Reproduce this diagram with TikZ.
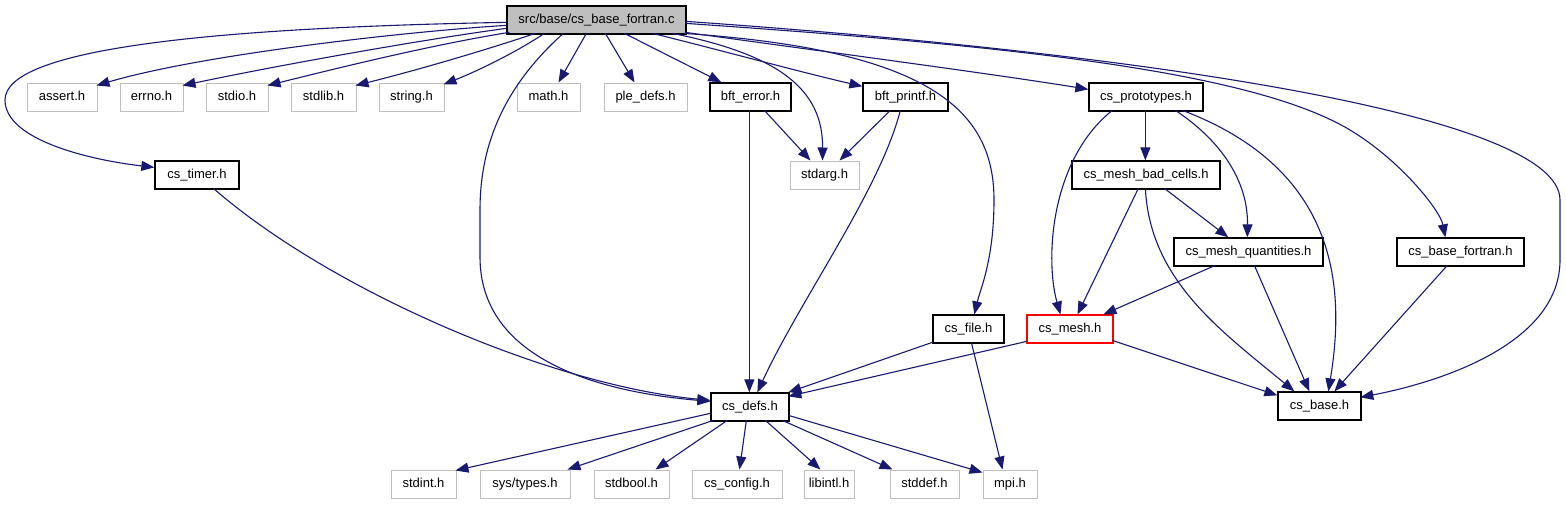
\documentclass[tikz,border=0pt]{standalone}
\usepackage{fontspec}
\setmainfont{Liberation Sans}
\usetikzlibrary{arrows.meta}
\definecolor{edgec}{HTML}{191970}
\definecolor{grayb}{HTML}{BFBFBF}
\begin{document}
\begin{tikzpicture}[x=1pt,y=-1pt,
  base/.style={draw, line width=1pt, inner sep=0pt, minimum height=28pt,
    font=\fontsize{13}{15}\selectfont, text height=9.5pt, text depth=2.5pt},
  blk/.style={base, draw=black, line width=1.3pt},
  gry/.style={base, draw=grayb},
  redb/.style={base, draw=red, line width=1.1pt},
  mainb/.style={base, draw=black, fill=grayb, line width=1.3pt},
  edge/.style={draw=edgec, line width=1.1pt, -{Triangle[length=13pt,width=10pt]}, fill=none},
]
\useasboundingbox (0,0) rectangle (1566,504);
\fill[white] (0,0) rectangle (1566,504);
% nodes
\node[mainb, minimum width=179pt] (main) at (596.5,20) {src/base/cs\_base\_fortran.c};
\node[gry, minimum width=70pt] (assert) at (62,97) {assert.h};
\node[gry, minimum width=63pt] (errno) at (151.5,97) {errno.h};
\node[gry, minimum width=62pt] (stdio) at (237,97) {stdio.h};
\node[gry, minimum width=65pt] (stdlib) at (323.5,97) {stdlib.h};
\node[gry, minimum width=65pt] (string) at (411.5,97) {string.h};
\node[gry, minimum width=63pt] (math) at (548.5,97) {math.h};
\node[gry, minimum width=83pt] (pledefs) at (645.5,97) {ple\_defs.h};
\node[blk, minimum width=81pt] (bfterror) at (750.5,97) {bft\_error.h};
\node[blk, minimum width=85pt] (bftprintf) at (905.5,97) {bft\_printf.h};
\node[blk, minimum width=114pt] (proto) at (1146,97) {cs\_prototypes.h};
\node[blk, minimum width=84pt] (timer) at (197,175) {cs\_timer.h};
\node[gry, minimum width=69pt] (stdarg) at (824.5,175) {stdarg.h};
\node[blk, minimum width=148pt] (badcells) at (1146,175) {cs\_mesh\_bad\_cells.h};
\node[blk, minimum width=149pt] (quant) at (1248.5,252) {cs\_mesh\_quantities.h};
\node[blk, minimum width=127pt] (bfortran) at (1460.5,252) {cs\_base\_fortran.h};
\node[blk, minimum width=71pt] (file) at (968.5,329) {cs\_file.h};
\node[redb, minimum width=86pt] (mesh) at (1070,329) {cs\_mesh.h};
\node[blk, minimum width=78pt] (defs) at (750,407) {cs\_defs.h};
\node[blk, minimum width=83pt] (basen) at (1319.5,406) {cs\_base.h};
\node[gry, minimum width=65pt] (stdint) at (423.5,484) {stdint.h};
\node[gry, minimum width=90pt] (systypes) at (525,484) {sys/types.h};
\node[gry, minimum width=75pt] (stdbool) at (631.5,484) {stdbool.h};
\node[gry, minimum width=90pt] (config) at (737,484) {cs\_config.h};
\node[gry, minimum width=50pt] (libintl) at (829,484) {libintl.h};
\node[gry, minimum width=69pt] (stddef) at (924.5,484) {stddef.h};
\node[gry, minimum width=54pt] (mpi) at (1010,484) {mpi.h};
% edges from main
\draw[edge] ([shift={(0,20)}]main.north west) .. controls (400,32) and (200,55) .. ([shift={(70,3)}]assert.north west);
\draw[edge] ([shift={(0,23)}]main.north west) .. controls (420,40) and (280,65) .. ([shift={(63,3)}]errno.north west);
\draw[edge] ([shift={(3,27)}]main.north west) .. controls (430,45) and (330,70) .. ([shift={(62,3)}]stdio.north west);
\draw[edge] ([shift={(29,28)}]main.north west) .. controls (480,52) and (410,72) .. ([shift={(65,3)}]stdlib.north west);
\draw[edge] ([shift={(38,28)}]main.north west) .. controls (520,50) and (480,70) .. ([shift={(65,2)}]string.north west);
\draw[edge] ([shift={(0,17)}]main.north west) .. controls (200,28) and (5,50) .. (5,100) .. controls (5,140) and (90,160) .. ([shift={(0,7)}]timer.north west);
\draw[edge] ([shift={(57,28)}]main.north west) .. controls (500,90) and (480,150) .. (480,210) -- (480,257) .. controls (480,360) and (600,392) .. ([shift={(0,9)}]defs.north west);
\draw[edge] ([shift={(80,28)}]main.north west) -- ([shift={(42,0)}]math.north west);
\draw[edge] ([shift={(99,28)}]main.north west) -- ([shift={(31,0)}]pledefs.north west);
\draw[edge] ([shift={(118,28)}]main.north west) -- ([shift={(12,0)}]bfterror.north west);
\draw[edge] ([shift={(146,28)}]main.north west) .. controls (720,50) and (800,72) .. ([shift={(0,4)}]bftprintf.north west);
\draw[edge] ([shift={(166,28)}]main.north west) .. controls (780,55) and (823,90) .. ([shift={(33,0)}]stdarg.north west);
\draw[edge] ([shift={(177,28)}]main.north west) .. controls (930,50) and (994,110) .. (994,200) .. controls (994,260) and (980,290) .. ([shift={(42,0)}]file.north west);
\draw[edge] ([shift={(179,27)}]main.north west) .. controls (850,55) and (1000,75) .. ([shift={(0,7)}]proto.north west);
\draw[edge] ([shift={(179,18)}]main.north west) .. controls (1000,45) and (1250,70) .. (1350,130) .. controls (1400,160) and (1440,210) .. ([shift={(49,0)}]bfortran.north west);
\draw[edge] ([shift={(179,16)}]main.north west) .. controls (1100,50) and (1560,110) .. (1560,200) -- (1560,260) .. controls (1560,340) and (1450,380) .. ([shift={(83,6)}]basen.north west);
% second level
\draw[edge] ([shift={(40,28)}]bfterror.north west) -- ([shift={(39,0)}]defs.north west);
\draw[edge] ([shift={(55,28)}]bfterror.north west) -- ([shift={(21,0)}]stdarg.north west);
\draw[edge] ([shift={(28,28)}]bftprintf.north west) -- ([shift={(50,0)}]stdarg.north west);
\draw[edge] ([shift={(38,28)}]bftprintf.north west) .. controls (880,190) and (800,300) .. ([shift={(47,0)}]defs.north west);
\draw[edge] ([shift={(59,28)}]timer.north west) .. controls (330,290) and (550,385) .. ([shift={(0,8)}]defs.north west);
\draw[edge] ([shift={(0,28)}]file.north west) -- ([shift={(78,0)}]defs.north west);
\draw[edge] ([shift={(0,27)}]mesh.north west) -- ([shift={(78,4)}]defs.north west);
\draw[edge] ([shift={(39,28)}]file.north west) -- ([shift={(20,0)}]mpi.north west);
\draw[edge] ([shift={(86,26)}]mesh.north west) -- ([shift={(0,4)}]basen.north west);
\draw[edge] ([shift={(24,28)}]proto.north west) .. controls (1050,160) and (1045,260) .. ([shift={(34,0)}]mesh.north west);
\draw[edge] ([shift={(57,28)}]proto.north west) -- ([shift={(74,0)}]badcells.north west);
\draw[edge] ([shift={(87,28)}]proto.north west) .. controls (1220,140) and (1248,180) .. ([shift={(74,0)}]quant.north west);
\draw[edge] ([shift={(94,28)}]proto.north west) .. controls (1340,170) and (1345,290) .. ([shift={(51,0)}]basen.north west);
\draw[edge] ([shift={(67,28)}]badcells.north west) -- ([shift={(51,0)}]mesh.north west);
\draw[edge] ([shift={(93,28)}]badcells.north west) -- ([shift={(55,0)}]quant.north west);
\draw[edge] ([shift={(74,28)}]badcells.north west) .. controls (1150,280) and (1220,330) .. ([shift={(17,0)}]basen.north west);
\draw[edge] ([shift={(42,28)}]quant.north west) -- ([shift={(77,0)}]mesh.north west);
\draw[edge] ([shift={(81,28)}]quant.north west) -- ([shift={(32,0)}]basen.north west);
\draw[edge] ([shift={(51,28)}]bfortran.north west) -- ([shift={(57,0)}]basen.north west);
% cs_defs to system headers
\draw[edge] ([shift={(0,21)}]defs.north west) -- ([shift={(65,1)}]stdint.north west);
\draw[edge] ([shift={(3,28)}]defs.north west) -- ([shift={(88,0)}]systypes.north west);
\draw[edge] ([shift={(17,28)}]defs.north west) -- ([shift={(62,0)}]stdbool.north west);
\draw[edge] ([shift={(36,28)}]defs.north west) -- ([shift={(48,0)}]config.north west);
\draw[edge] ([shift={(55,28)}]defs.north west) -- ([shift={(17,0)}]libintl.north west);
\draw[edge] ([shift={(72,28)}]defs.north west) -- ([shift={(3,0)}]stddef.north west);
\draw[edge] ([shift={(78,23)}]defs.north west) -- ([shift={(0,3)}]mpi.north west);
\end{tikzpicture}
\end{document}
